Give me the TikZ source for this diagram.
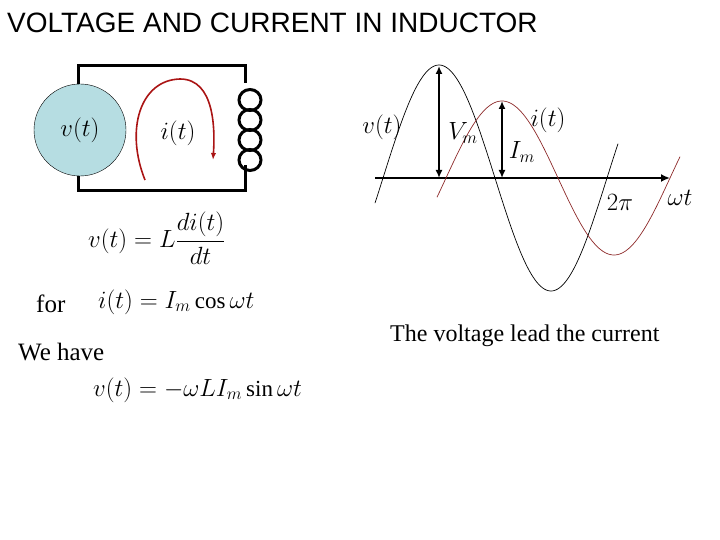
\documentclass[tikz,border=0pt]{standalone}
\usepackage{fontspec}
\setmainfont{Liberation Serif}
\newfontfamily\arial{Liberation Sans}
\usetikzlibrary{arrows.meta}
\definecolor{src}{RGB}{182,221,226}
\definecolor{dred}{RGB}{170,20,20}
\definecolor{wred}{RGB}{140,40,40}
\begin{document}
\begin{tikzpicture}[x=1pt,y=-1pt,
  wire/.style={line width=3pt},
  lbl/.style={inner sep=0pt,font=\fontsize{25}{27}\selectfont},
  eq/.style={inner sep=0pt,font=\fontsize{23}{25}\selectfont},
  dim/.style={line width=1.8pt,{Latex[length=8pt,width=7pt]}-{Latex[length=8pt,width=7pt]}}]
\useasboundingbox (0,0) rectangle (720,540);
\node[anchor=west,inner sep=0pt,font=\arial\fontsize{28}{30}\selectfont] (title) at (7,23) {VOLTAGE AND CURRENT IN INDUCTOR};
% circuit
\draw[wire] (245,83) -- (245,66) -- (78,66) -- (78,191) -- (245,191) -- (245,165);
\foreach \k in {0,1,2,3} \draw[line width=3pt] (250,100+20*\k) ellipse (11 and 10.5);
\node[circle,draw,fill=src,minimum size=92pt,inner sep=0pt] (vs) at (80,130) {};
\node[lbl] (vl) at (80,130) {$v(t)$};
\node[lbl] (il) at (178,133) {$i(t)$};
\draw[dred,line width=1.6pt,-{Latex[length=7pt]}] (145,180) .. controls (125,130) and (140,80) .. (180,79) .. controls (215,79) and (215,130) .. (213,160);
% graph
\coordinate (ax0) at (375,178); \coordinate (ax1) at (670,178);
\draw[line width=1.8pt,-{Latex[length=9pt,width=8pt]}] (ax0) -- (ax1);
\draw[black,line width=0.7pt,domain=375:618,samples=150] plot (\x,{178-113*sin((\x-383)/224*360)});
\draw[wred,line width=0.7pt,domain=437:680,samples=150] plot (\x,{178-77*sin((\x-446)/224*360)});
\coordinate (vt) at (439,66); \coordinate (vb) at (439,178);
\coordinate (it) at (502,101); \coordinate (ib) at (502,178);
\draw[dim] (vt) -- (vb);
\draw[dim] (it) -- (ib);
\node[lbl] (gv) at (382,127) {$v(t)$};
\node[lbl] (gvm) at (463,133) {$V_m$};
\node[lbl] (gim) at (522,152) {$I_m$};
\node[lbl] (gi) at (548,120) {$i(t)$};
\node[lbl] (g2p) at (620,202) {$2\pi$};
\node[lbl] (gwt) at (680,198) {$\omega t$};
% equations
\node[eq,anchor=west] (e1) at (88,238) {$v(t)=L\displaystyle\frac{di(t)}{dt}$};
\node[lbl,anchor=west] (for) at (36,304) {for};
\node[eq,anchor=west] (e2) at (98,302) {$i(t)=I_m\cos\omega t$};
\node[lbl,anchor=west] (we) at (18,352) {We have};
\node[eq,anchor=west] (e3) at (93,390) {$v(t)=-\omega LI_m\sin\omega t$};
\node[lbl,anchor=west,font=\fontsize{24}{26}\selectfont] (txt) at (390,336) {The voltage lead the current};
\end{tikzpicture}
\end{document}
